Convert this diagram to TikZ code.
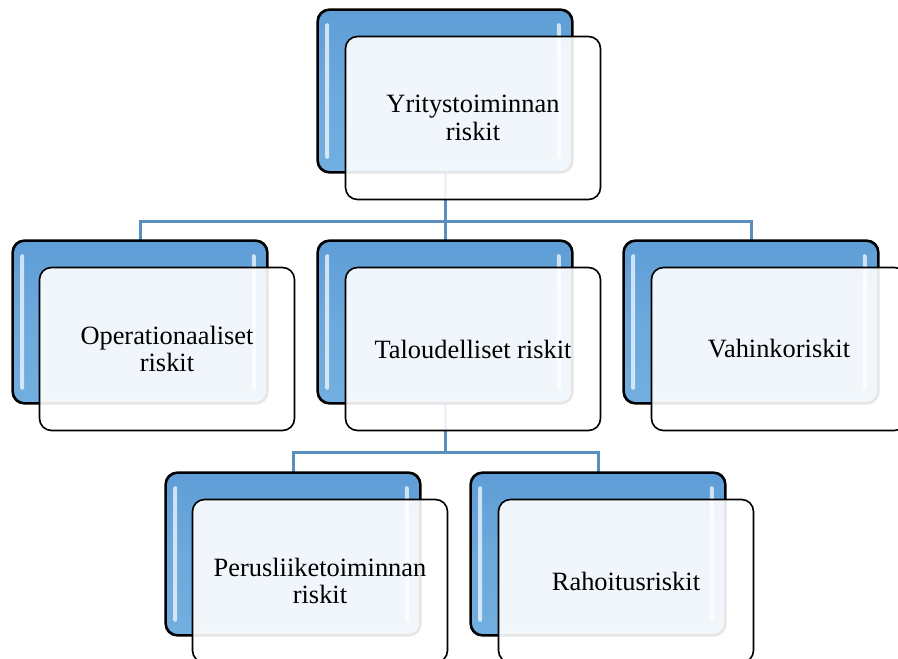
\documentclass[tikz,border=0pt]{standalone}
\usepackage{fontspec}
\setmainfont{Liberation Serif}
\begin{document}
\begin{tikzpicture}[x=1pt,y=-1pt,
  backbox/.style={draw=black, line width=1.6pt, rounded corners=12pt,
    minimum width=254pt, minimum height=162pt, inner sep=0pt,
    top color=blueTop, bottom color=blueBot, middle color=blueMid},
  frontbox/.style={draw=black, line width=1.6pt, rounded corners=12pt,
    minimum width=255pt, minimum height=163pt, inner sep=0pt,
    fill=white, fill opacity=0.9, text opacity=1, align=center,
    font=\fontsize{26.4}{27.5}\selectfont},
  gloss/.style={draw=none, fill=white, fill opacity=0.7, rounded corners=2pt},
  conn/.style={draw=connBlue, line width=3pt}
]
\definecolor{blueTop}{HTML}{5E9DD6}
\definecolor{blueMid}{HTML}{6CA9DC}
\definecolor{blueBot}{HTML}{72AEE0}
\definecolor{connBlue}{HTML}{5A8EBE}
\clip (0,0) rectangle (898,659);
\fill[white] (0,0) rectangle (898,659);

\coordinate (j1) at (445,221);
\coordinate (j2) at (445,452);

% back boxes
\node[backbox] (b1) at (445,91) {};
\node[backbox] (b2) at (140,322) {};
\node[backbox] (b3) at (445,322) {};
\node[backbox] (b4) at (751,322) {};
\node[backbox] (b5) at (293,554) {};
\node[backbox] (b6) at (598,554) {};

% connectors
\draw[conn] (b1.south) -- (j1) -| (b2.north);
\draw[conn] (j1) -| (b4.north);
\draw[conn] (j1) -- (b3.north);
\draw[conn] (b3.south) -- (j2) -| (b5.north);
\draw[conn] (j2) -| (b6.north);

% gloss highlights
\foreach \b in {b1,b2,b3,b4,b5,b6}{
  \fill[gloss] ([xshift=8pt,yshift=-14pt]\b.north west) rectangle ([xshift=12pt,yshift=14pt]\b.south west);
  \fill[gloss] ([xshift=-16pt,yshift=-14pt]\b.north east) rectangle ([xshift=-12pt,yshift=14pt]\b.south east);
}
% redraw back box outlines over connectors
\foreach \b in {b1,b2,b3,b4,b5,b6}{
  \draw[line width=1.6pt, rounded corners=12pt] (\b.north west) rectangle (\b.south east);
}

% front boxes
\node[frontbox] (f1) at (473,118) {Yritystoiminnan\\riskit};
\node[frontbox] (f2) at (167,349) {Operationaaliset\\riskit};
\node[frontbox] (f3) at (473,349) {Taloudelliset riskit};
\node[frontbox] (f4) at (779,349) {Vahinkoriskit};
\node[frontbox] (f5) at (320,581) {Perusliiketoiminnan\\riskit};
\node[frontbox] (f6) at (626,581) {Rahoitusriskit};
\end{tikzpicture}
\end{document}
